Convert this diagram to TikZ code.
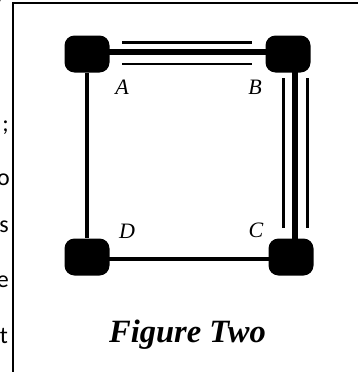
\documentclass[tikz,border=0pt]{standalone}
\usepackage{fontspec}
\setmainfont{Liberation Serif}
\newfontfamily\bodyfont{Carlito}
\usetikzlibrary{calc}

\begin{document}
\begin{tikzpicture}[x=1pt, y=-1pt,
    corner/.style={fill=black, rounded corners=10pt, minimum width=45pt, minimum height=37pt, inner sep=0pt},
    heavyside/.style={line width=6.5pt},
    side/.style={line width=4.5pt},
    sideline/.style={line width=2.5pt},
    letter/.style={font=\itshape\fontsize{22}{25}\selectfont, inner sep=0pt},
    cut/.style={anchor=base east, inner sep=0pt, font=\bodyfont\fontsize{24}{28}\selectfont}]
    \useasboundingbox (0,0) rectangle (358,372);
    \clip (0,0) rectangle (358,372);

    % Frame
    \draw[line width=2pt] (13,372) -- (13,3) -- (358,3);

    % Text cut off at the left
    \node[cut] (cutA) at (5,2) {y};
    \node[cut] (cutB) at (9,131) {;};
    \node[cut] (cutC) at (10,185) {o};
    \node[cut] (cutD) at (9,232) {s};
    \node[cut] (cutE) at (9,287) {e};
    \node[cut] (cutF) at (8,343) {t};

    % Corners
    \node[corner] (A) at (87,54) {};
    \node[corner] (B) at (288,54) {};
    \node[corner] (C) at (291,257) {};
    \node[corner] (D) at (87,257) {};

    % Sides
    \draw[heavyside] ([yshift=2pt]A.center) -- ([yshift=2pt]B.center);
    \draw[heavyside] ([xshift=7pt]B.center) -- ([xshift=4pt]C.center);
    \draw[side] (A) -- (D);
    \draw[side] ([yshift=-2pt]D.center) -- ([yshift=-2pt]C.center);

    % Extra lines along the heavy sides
    \draw[sideline] (122,42.5) -- (252,42.5);
    \draw[sideline] (122,64) -- (252,64);
    \draw[sideline] (283.5,78) -- (283.5,228);
    \draw[sideline] (307.5,78) -- (307.5,228);

    % Labels
    \node[letter] (labA) at (122,87) {A};
    \node[letter] (labB) at (255,87) {B};
    \node[letter] (labC) at (256,230) {C};
    \node[letter] (labD) at (127,231) {D};

    % Caption
    \node[anchor=base, font=\bfseries\itshape\fontsize{32.5}{38}\selectfont] (cap) at (187.5,342) {Figure Two};
\end{tikzpicture}
\end{document}
